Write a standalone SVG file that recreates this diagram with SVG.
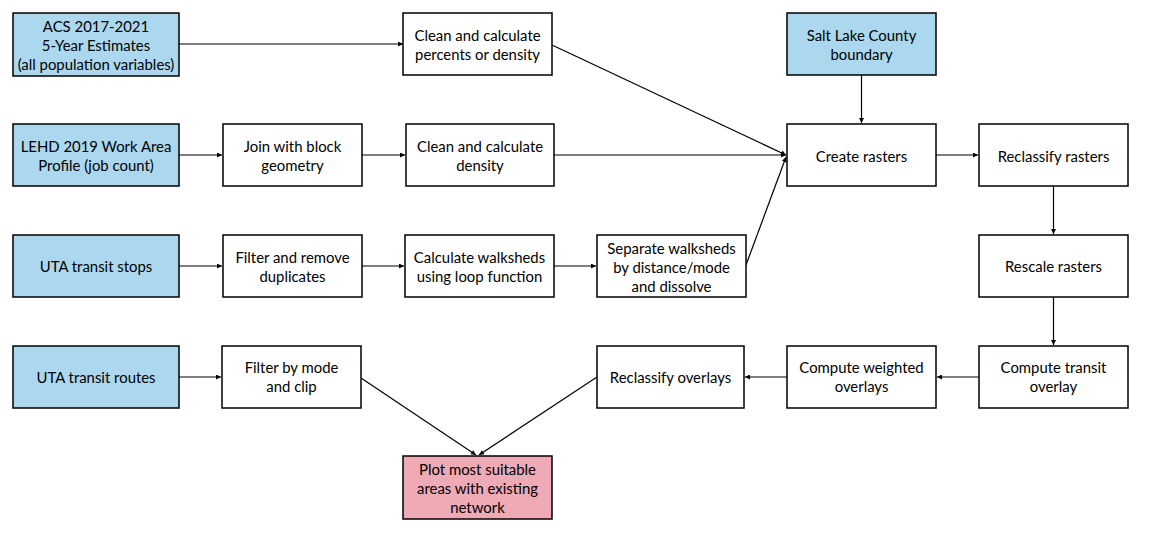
<svg xmlns="http://www.w3.org/2000/svg" width="1151" height="538" viewBox="0 0 1151 538">
<style>
.box{fill:#ffffff;stroke:#000;stroke-width:1.5}
.src{fill:#abd8ee;stroke:#000;stroke-width:1.5}
.out{fill:#eeaab5;stroke:#000;stroke-width:1.5}
text{font-family:Lato,"Liberation Sans",sans-serif;font-size:14.9px;fill:#000;text-anchor:middle}
.edge{stroke:#000;stroke-width:1.2;fill:none;marker-end:url(#ah)}
</style>
<defs>
<marker id="ah" viewBox="0 0 10 10" refX="10" refY="5" markerWidth="7" markerHeight="5" markerUnits="userSpaceOnUse" orient="auto">
<path d="M0,0 L10,5 L0,10 z" fill="#000"/>
</marker>
</defs>
<rect width="1151" height="538" fill="#fff"/>
<g id="connectors">
<line class="edge" x1="179" y1="44" x2="403" y2="44"/>
<line class="edge" x1="552" y1="45" x2="786" y2="155"/>
<line class="edge" x1="179" y1="155" x2="222" y2="155"/>
<line class="edge" x1="362" y1="155" x2="405" y2="155"/>
<line class="edge" x1="554" y1="155" x2="786" y2="155"/>
<line class="edge" x1="746" y1="265" x2="786" y2="157"/>
<line class="edge" x1="861.5" y1="75" x2="861.5" y2="123"/>
<line class="edge" x1="936" y1="155" x2="978" y2="155"/>
<line class="edge" x1="1053.5" y1="186" x2="1053.5" y2="234"/>
<line class="edge" x1="1053.5" y1="297" x2="1053.5" y2="345"/>
<line class="edge" x1="979" y1="377" x2="937" y2="377"/>
<line class="edge" x1="787" y1="377" x2="745" y2="377"/>
<line class="edge" x1="597" y1="377" x2="479" y2="455"/>
<line class="edge" x1="361" y1="378" x2="476" y2="455"/>
<line class="edge" x1="179" y1="266" x2="222" y2="266"/>
<line class="edge" x1="362" y1="266" x2="404" y2="266"/>
<line class="edge" x1="554" y1="266" x2="596" y2="266"/>
<line class="edge" x1="179" y1="377" x2="221" y2="377"/>
</g>
<g id="acs"><rect class="src" x="13" y="13" width="166" height="63"/><text x="96" y="31.5">ACS 2017-2021</text><text x="96" y="50.5">5-Year Estimates</text><text x="96" y="69.5">(all population variables)</text></g>
<g id="clean-percents"><rect class="box" x="403" y="13" width="149" height="62"/><text x="477.5" y="41">Clean and calculate</text><text x="477.5" y="60">percents or density</text></g>
<g id="salt-lake"><rect class="src" x="787" y="13" width="149" height="62"/><text x="861.5" y="41">Salt Lake County</text><text x="861.5" y="60">boundary</text></g>
<g id="lehd"><rect class="src" x="13" y="124" width="166" height="62"/><text x="96" y="152">LEHD 2019 Work Area</text><text x="96" y="171">Profile (job count)</text></g>
<g id="join"><rect class="box" x="223" y="124" width="139" height="62"/><text x="292.5" y="152">Join with block</text><text x="292.5" y="171">geometry</text></g>
<g id="clean-density"><rect class="box" x="406" y="124" width="148" height="62"/><text x="480" y="152">Clean and calculate</text><text x="480" y="171">density</text></g>
<g id="create-rasters"><rect class="box" x="787" y="124" width="149" height="62"/><text x="861.5" y="162">Create rasters</text></g>
<g id="reclassify-rasters"><rect class="box" x="979" y="124" width="149" height="62"/><text x="1053.5" y="162">Reclassify rasters</text></g>
<g id="uta-stops"><rect class="src" x="13" y="235" width="166" height="62"/><text x="96" y="272">UTA transit stops</text></g>
<g id="filter-remove"><rect class="box" x="223" y="235" width="139" height="62"/><text x="292.5" y="263">Filter and remove</text><text x="292.5" y="282">duplicates</text></g>
<g id="calc-walksheds"><rect class="box" x="405" y="235" width="149" height="62"/><text x="479.5" y="263">Calculate walksheds</text><text x="479.5" y="282">using loop function</text></g>
<g id="separate"><rect class="box" x="597" y="235" width="149" height="62"/><text x="671.5" y="253.5">Separate walksheds</text><text x="671.5" y="272.5">by distance/mode</text><text x="671.5" y="291.5">and dissolve</text></g>
<g id="rescale"><rect class="box" x="979" y="235" width="149" height="62"/><text x="1053.5" y="272">Rescale rasters</text></g>
<g id="uta-routes"><rect class="src" x="13" y="346" width="166" height="62"/><text x="96" y="382.5">UTA transit routes</text></g>
<g id="filter-mode"><rect class="box" x="222" y="346" width="139" height="62"/><text x="291.5" y="373">Filter by mode</text><text x="291.5" y="392">and clip</text></g>
<g id="reclassify-overlays"><rect class="box" x="597" y="346" width="147" height="62"/><text x="670.5" y="382.5">Reclassify overlays</text></g>
<g id="compute-weighted"><rect class="box" x="787" y="346" width="149" height="62"/><text x="861.5" y="373">Compute weighted</text><text x="861.5" y="392">overlays</text></g>
<g id="compute-transit"><rect class="box" x="979" y="346" width="149" height="62"/><text x="1053.5" y="373">Compute transit</text><text x="1053.5" y="392">overlay</text></g>
<g id="plot"><rect class="out" x="403" y="456" width="149" height="63"/><text x="477.5" y="475">Plot most suitable</text><text x="477.5" y="494">areas with existing</text><text x="477.5" y="512.5">network</text></g>
</svg>
